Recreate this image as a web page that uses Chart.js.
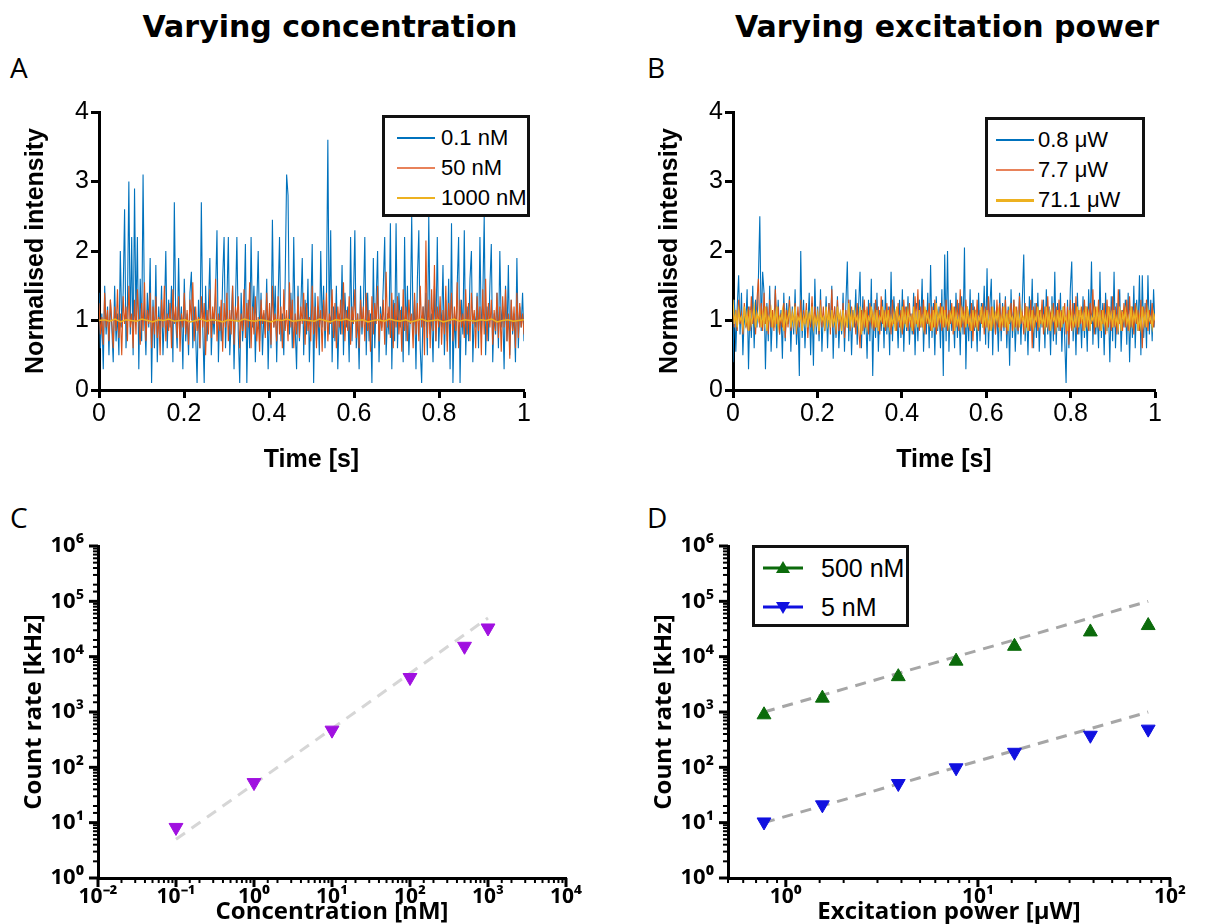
<!DOCTYPE html>
<html>
<head>
<meta charset="utf-8">
<script src="https://cdn.jsdelivr.net/npm/chart.js@4"></script>
<style>
body { margin: 0; background: #fff; width: 1220px; height: 924px; position: relative; overflow: hidden; }
canvas { position: absolute; }
.title { position: absolute; top: 9px; width: 480px; text-align: center; font: bold 30px "DejaVu Sans"; color: #000; }
.letter { position: absolute; font: 28px "Open Sans"; color: #000; }
.legend { position: absolute; background: #fff; border: 3px solid #111; box-sizing: border-box; z-index: 2; font: 22px "Liberation Sans"; color: #000; }
.row { position: absolute; height: 26px; line-height: 26px; white-space: nowrap; }
.row span.sample { position: absolute; top: 12px; height: 2px; width: 38px; }
.row span.txt { position: absolute; top: 0; }
</style>
</head>
<body>
<div class="title" style="left:90px">Varying concentration</div>
<div class="title" style="left:707px">Varying excitation power</div>
<div class="letter" style="left:10px;top:48px">A</div>
<div class="letter" style="left:647px;top:48px">B</div>
<div class="letter" style="left:10px;top:498px">C</div>
<div class="letter" style="left:647px;top:498px">D</div>

<canvas id="chartA" width="560" height="385" style="left:0;top:95px"></canvas>
<canvas id="chartB" width="560" height="385" style="left:634px;top:95px"></canvas>
<canvas id="chartC" width="600" height="404" style="left:0;top:520px"></canvas>
<canvas id="chartD" width="590" height="404" style="left:630px;top:520px"></canvas>

<div class="legend" style="left:382px;top:115px;width:148px;height:102px">
  <div class="row" style="left:12px;top:7px"><span class="sample" style="background:#0072BD;height:1.5px"></span><span class="txt" style="left:44px">0.1 nM</span></div>
  <div class="row" style="left:12px;top:37px"><span class="sample" style="background:#E8825A"></span><span class="txt" style="left:44px">50 nM</span></div>
  <div class="row" style="left:12px;top:67px"><span class="sample" style="background:#EDB120;height:1.5px"></span><span class="txt" style="left:44px">1000 nM</span></div>
</div>
<div class="legend" style="left:985px;top:117px;width:160px;height:100px">
  <div class="row" style="left:8px;top:7px"><span class="sample" style="background:#0072BD;height:1.5px"></span><span class="txt" style="left:42px">0.8 μW</span></div>
  <div class="row" style="left:8px;top:37px"><span class="sample" style="background:#E8825A"></span><span class="txt" style="left:42px">7.7 μW</span></div>
  <div class="row" style="left:8px;top:67px"><span class="sample" style="background:#EDB120;height:3px"></span><span class="txt" style="left:42px">71.1 μW</span></div>
</div>
<div class="legend" style="left:752px;top:545px;width:157px;height:82px;font-size:25px">
  <div class="row" style="left:8px;top:7px"><svg style="position:absolute;top:3px" width="40" height="20"><line x1="0" y1="10" x2="40" y2="10" stroke="#0B6B0B" stroke-width="3"/><polygon points="20,3 27,15 13,15" fill="#0B6B0B"/></svg><span class="txt" style="left:58px">500 nM</span></div>
  <div class="row" style="left:8px;top:46px"><svg style="position:absolute;top:3px" width="40" height="20"><line x1="0" y1="10" x2="40" y2="10" stroke="#1010E0" stroke-width="3"/><polygon points="13,5 27,5 20,17" fill="#1010E0"/></svg><span class="txt" style="left:58px">5 nM</span></div>
</div>

<script>
'use strict';

// ---- panel A: intensity traces at different concentrations ----
const concTraceLabels = ['0.1 nM', '50 nM', '1000 nM'];
const traceA01 = [
  1.4, 0.6, 1.1, 0.3, 1.5, 0.8, 1.2, 0.5, 1.3, 0.9,
  0.4, 1.5, 0.7, 1.1, 0.5, 2.0, 0.9, 1.4, 2.6, 0.6,
  1.2, 3.0, 0.8, 2.2, 0.5, 2.9, 1.0, 2.2, 0.3, 1.6,
  0.7, 3.1, 1.1, 0.5, 1.4, 0.9, 1.9, 0.1, 1.3, 0.6,
  1.8, 0.4, 1.2, 0.8, 1.5, 0.5, 1.1, 2.0, 0.6, 1.3,
  0.9, 1.5, 0.4, 2.7, 1.0, 0.6, 1.9, 0.8, 1.2, 0.3,
  1.6, 0.7, 1.1, 0.5, 1.4, 1.7, 0.6, 1.2, 0.8, 0.1,
  1.3, 0.6, 2.7, 0.9, 0.1, 1.5, 0.7, 1.2, 1.9, 0.5,
  1.1, 0.8, 1.4, 2.3, 0.4, 1.2, 0.7, 1.6, 2.2, 0.6,
  1.3, 2.2, 0.5, 1.0, 1.5, 0.3, 1.2, 2.2, 0.8, 0.1,
  1.4, 0.7, 1.1, 2.1, 0.1, 1.3, 0.6, 2.2, 0.9, 1.5,
  0.4, 1.2, 2.0, 0.7, 1.4, 0.5, 1.1, 0.8, 1.6, 0.3,
  1.2, 0.6, 2.45, 0.9, 1.5, 0.4, 1.3, 2.2, 0.7, 1.1,
  0.5, 1.6, 3.1, 2.8, 0.8, 1.4, 0.6, 2.2, 0.9, 0.3,
  1.5, 0.7, 1.2, 1.9, 0.5, 1.3, 0.8, 1.6, 0.4, 1.1,
  2.1, 0.1, 1.4, 0.7, 1.2, 0.5, 2.0, 0.9, 1.5, 0.6,
  1.3, 3.6, 0.8, 2.3, 0.4, 1.2, 0.7, 1.5, 0.3, 1.1,
  0.8, 1.8, 0.5, 1.4, 0.9, 1.2, 0.4, 2.2, 0.7, 1.3,
  2.3, 0.6, 1.1, 0.3, 1.5, 0.8, 1.2, 2.2, 0.5, 1.4,
  0.7, 1.1, 0.1, 1.9, 0.6, 1.3, 2.0, 0.4, 1.2, 0.9,
  1.5, 2.2, 0.5, 1.1, 0.8, 2.4, 0.3, 1.3, 0.7, 2.4,
  0.6, 1.4, 0.9, 1.2, 0.4, 2.2, 0.7, 1.5, 0.5, 1.1,
  2.5, 0.8, 1.3, 0.3, 1.6, 2.3, 0.6, 0.1, 1.2, 0.9,
  1.4, 0.5, 2.5, 0.8, 1.1, 0.4, 1.5, 0.7, 2.2, 0.6,
  1.2, 0.9, 1.8, 0.5, 1.3, 0.7, 1.6, 0.3, 2.4, 0.1,
  1.1, 0.6, 1.5, 2.2, 0.1, 1.3, 0.8, 2.3, 0.5, 1.2,
  0.7, 1.6, 2.0, 0.4, 1.1, 0.9, 1.4, 0.6, 2.2, 0.8,
  1.3, 2.5, 0.5, 1.2, 0.7, 1.5, 2.1, 0.4, 1.1, 0.8,
  1.4, 0.6, 2.0, 0.9, 1.2, 0.3, 1.5, 0.7, 1.8, 0.5,
  1.3, 0.8, 1.1, 0.4, 1.9, 0.6, 1.2, 0.9, 1.4, 0.7
];
const traceA50 = [
  1.25, 0.8, 1.05, 0.65, 1.4, 0.9, 1.15, 0.7, 1.3, 1.0,
  0.6, 1.2, 0.85, 1.45, 0.75, 1.1, 0.5, 1.35, 0.95, 1.2,
  0.7, 1.5, 0.9, 1.1, 0.6, 1.3, 0.8, 1.45, 1.0, 0.65,
  1.25, 0.85, 1.55, 0.7, 1.15, 0.95, 1.4, 0.6, 1.2, 0.8,
  1.35, 0.75, 1.05, 0.5, 1.3, 0.9, 1.5, 0.7, 1.1, 0.85,
  1.25, 0.6, 1.45, 0.95, 1.2, 0.75, 1.35, 0.55, 1.1, 0.9,
  1.4, 0.8, 1.15, 0.65, 1.3, 1.0, 1.55, 0.7, 1.2, 0.85,
  1.05, 0.6, 1.35, 0.9, 1.25, 0.5, 1.15, 0.8, 1.45, 0.75,
  1.2, 0.95, 1.6, 0.7, 1.1, 0.85, 1.3, 0.55, 1.25, 0.9,
  1.4, 0.7, 1.15, 0.8, 1.5, 0.65, 1.2, 1.0, 1.35, 0.6,
  1.1, 0.85, 1.45, 0.75, 1.25, 0.9, 1.55, 0.6, 1.2, 0.8,
  1.35, 0.7, 1.05, 0.55, 1.3, 0.95, 1.15, 0.75, 1.4, 0.85,
  1.25, 0.65, 1.5, 0.9, 1.1, 0.7, 1.35, 0.8, 1.2, 0.6,
  1.45, 0.85, 1.15, 0.7, 1.55, 0.9, 1.3, 0.6, 1.1, 0.8,
  1.35, 0.75, 1.2, 0.95, 1.4, 0.65, 1.25, 0.85, 1.05, 0.7,
  1.5, 0.8, 1.2, 0.6, 1.35, 0.9, 1.15, 0.55, 1.3, 0.85,
  1.4, 0.7, 1.1, 0.95, 1.45, 0.75, 1.25, 0.6, 1.2, 0.9,
  1.3, 0.8, 1.55, 0.7, 1.15, 0.85, 1.35, 0.65, 1.2, 0.95,
  1.45, 0.75, 1.1, 0.6, 1.3, 0.9, 1.2, 0.7, 1.4, 0.85,
  1.15, 0.55, 1.35, 0.8, 1.25, 0.95, 1.5, 0.7, 1.1, 0.85,
  1.3, 0.65, 1.7, 0.9, 1.2, 0.75, 1.4, 0.6, 1.25, 0.9,
  1.35, 0.8, 1.15, 0.55, 1.45, 0.85, 1.2, 0.7, 1.3, 0.95,
  1.1, 0.6, 1.4, 0.8, 1.25, 0.7, 1.5, 0.9, 1.2, 0.5,
  2.15, 0.75, 1.3, 0.6, 1.45, 0.85, 1.8, 0.7, 1.2, 0.9,
  1.35, 0.65, 1.15, 0.8, 1.5, 0.55, 1.25, 0.95, 1.4, 0.7,
  1.2, 0.85, 1.55, 0.6, 1.3, 0.9, 1.1, 0.75, 1.45, 0.8,
  1.25, 0.7, 1.4, 0.95, 1.15, 0.6, 1.35, 0.85, 1.2, 0.5,
  1.45, 0.8, 1.6, 0.7, 1.25, 0.9, 1.3, 0.65, 1.15, 0.85,
  1.4, 0.75, 1.2, 0.55, 1.35, 0.9, 1.45, 0.7, 1.1, 0.45,
  1.3, 0.85, 1.2, 0.6, 1.4, 0.75, 1.25, 0.9, 1.1, 0.8
];
const traceA1000 = [
  1.0, 1.01, 0.99, 1.02, 0.98, 1.01, 1.0, 0.99, 1.02, 1.0,
  0.98, 1.01, 1.0, 1.02, 0.99, 1.0, 1.01, 0.98, 1.0, 1.02,
  0.99, 1.01, 1.0, 0.98, 1.01, 1.0, 0.99, 1.02, 1.0, 0.99,
  1.01, 1.0, 0.98, 1.01, 1.0, 1.02, 0.99, 1.0, 1.01, 1.0,
  0.99, 1.02, 1.0, 0.98, 1.01, 1.0, 1.02, 0.99, 1.0, 1.01,
  0.98, 1.0, 1.01, 0.99, 1.02, 1.0, 0.99, 1.01, 0.98, 1.0,
  1.02, 0.99, 1.0, 1.01, 0.98, 1.0, 1.02, 0.99, 1.01, 1.0,
  0.99, 1.01, 1.0, 1.02, 0.98, 1.0, 1.01, 0.99, 1.0, 1.01
];

// ---- panel B: intensity traces at different excitation powers ----
const powerTraceLabels = ['0.8 μW', '7.7 μW', '71.1 μW'];
const traceB08 = [
  0.4, 1.3, 0.55, 1.2, 1.65, 0.8, 1.4, 0.5, 1.1, 0.9,
  1.45, 0.3, 1.2, 0.75, 1.5, 0.6, 1.3, 0.9, 1.6, 2.5,
  0.85, 1.7, 1.4, 0.3, 1.25, 0.7, 1.5, 0.55, 1.1, 0.9,
  1.5, 0.6, 1.3, 0.8, 1.15, 0.45, 1.4, 0.7, 1.25, 0.95,
  1.35, 0.55, 1.2, 0.8, 1.45, 0.65, 1.1, 0.2, 2.0, 0.75,
  1.3, 0.6, 1.15, 0.9, 1.4, 0.5, 1.25, 0.35, 1.6, 0.8,
  1.2, 0.7, 1.45, 0.55, 1.1, 0.85, 1.35, 0.6, 1.25, 0.9,
  1.5, 0.45, 1.2, 0.75, 1.35, 0.6, 1.1, 0.8, 1.4, 0.55,
  1.25, 1.85, 0.7, 1.3, 0.5, 1.15, 0.9, 1.45, 0.65, 1.2,
  1.7, 0.6, 1.35, 0.8, 1.1, 0.45, 1.3, 0.7, 1.6, 0.2,
  1.25, 0.75, 1.4, 0.55, 1.15, 0.85, 1.3, 0.6, 1.45, 0.8,
  1.2, 0.5, 1.7, 0.7, 1.35, 0.9, 1.15, 0.6, 1.3, 0.75,
  1.45, 0.55, 1.2, 0.85, 1.35, 0.65, 1.1, 0.8, 1.4, 0.5,
  1.25, 0.7, 1.3, 0.9, 1.6, 0.55, 1.15, 0.8, 1.4, 0.6,
  1.8, 0.75, 1.25, 0.5, 1.35, 0.85, 1.2, 0.6, 1.45, 0.2,
  1.95, 0.7, 2.0, 0.55, 1.3, 0.85, 1.15, 0.6, 1.4, 0.75,
  1.25, 0.5, 1.35, 0.8, 2.05, 0.3, 1.2, 0.7, 1.45, 0.6,
  1.3, 0.85, 1.15, 0.55, 1.4, 0.7, 1.25, 0.9, 1.5, 0.65,
  1.75, 0.6, 1.2, 1.6, 0.5, 1.3, 0.8, 1.15, 0.55, 1.4,
  0.7, 1.25, 0.85, 1.35, 0.6, 1.2, 0.35, 1.45, 0.75, 1.3,
  0.55, 1.15, 0.8, 1.4, 0.65, 1.3, 1.95, 0.7, 1.2, 0.5,
  1.35, 0.85, 1.6, 0.6, 1.25, 0.75, 1.4, 0.55, 1.15, 0.9,
  1.3, 0.6, 1.45, 0.8, 1.2, 0.5, 1.35, 0.7, 1.7, 0.65,
  1.25, 0.85, 1.4, 0.55, 1.2, 0.75, 0.1, 1.3, 0.6, 1.45,
  1.85, 0.7, 1.25, 0.5, 1.4, 0.8, 1.15, 0.6, 1.35, 0.75,
  1.2, 0.55, 1.45, 0.85, 1.85, 0.65, 1.3, 0.8, 1.15, 0.6,
  1.7, 0.75, 1.25, 0.5, 1.4, 0.85, 1.2, 0.4, 1.35, 0.7,
  1.7, 0.6, 1.25, 0.8, 1.45, 0.55, 1.15, 0.9, 1.3, 0.65,
  1.4, 0.4, 1.2, 0.75, 1.5, 0.6, 1.3, 0.85, 1.65, 0.5,
  1.65, 0.75, 1.25, 0.6, 1.65, 0.8, 1.3, 0.7, 1.45, 0.9
];
const traceB77 = [
  1.2, 0.9, 1.15, 0.85, 1.3, 0.95, 1.1, 0.8, 1.25, 1.0,
  0.9, 1.2, 0.85, 1.35, 0.95, 1.15, 0.8, 1.3, 1.6, 0.9,
  1.25, 0.85, 1.4, 0.95, 1.2, 0.8, 1.3, 0.9, 1.15, 0.85,
  1.45, 0.95, 1.2, 0.8, 1.1, 0.9, 1.25, 0.75, 1.15, 0.9,
  1.3, 0.85, 1.1, 0.95, 1.25, 0.8, 1.2, 0.9, 1.3, 0.85,
  1.15, 0.95, 1.25, 0.75, 1.1, 0.9, 1.35, 0.85, 1.2, 0.95,
  1.1, 0.8, 1.3, 0.9, 1.2, 0.85, 1.15, 0.95, 1.25, 0.8,
  1.45, 0.9, 1.2, 0.8, 1.3, 0.85, 1.1, 0.95, 1.25, 0.75,
  1.15, 0.9, 1.3, 0.85, 1.2, 0.95, 1.1, 0.8, 1.25, 0.9,
  0.6, 1.15, 0.85, 1.3, 0.9, 1.2, 0.8, 1.25, 0.95, 1.1,
  0.85, 1.3, 0.9, 1.2, 0.8, 1.35, 0.95, 1.15, 0.85, 1.25,
  0.9, 1.2, 0.8, 1.3, 0.95, 1.1, 0.85, 1.25, 0.9, 1.15,
  0.8, 1.3, 0.95, 1.2, 0.85, 1.25, 0.9, 1.1, 0.8, 1.35,
  0.95, 1.45, 0.85, 1.2, 0.9, 1.3, 0.8, 1.15, 0.95, 1.25,
  0.85, 1.2, 0.9, 1.3, 0.8, 1.1, 0.95, 1.25, 0.85, 1.2,
  0.9, 1.3, 0.85, 1.15, 0.95, 1.25, 0.8, 1.2, 0.9, 1.3,
  0.85, 1.45, 0.9, 1.2, 0.8, 1.3, 0.95, 1.1, 0.85, 1.25,
  0.7, 1.2, 0.9, 1.3, 0.85, 1.15, 0.95, 1.25, 0.8, 1.2,
  0.9, 1.35, 0.85, 1.2, 0.95, 1.1, 0.8, 1.3, 0.9, 1.25,
  0.85, 1.2, 0.9, 1.3, 0.8, 1.15, 0.95, 1.25, 0.85, 1.3,
  0.9, 1.2, 0.85, 1.35, 0.95, 1.1, 0.8, 1.25, 0.9, 1.2,
  0.85, 1.3, 0.6, 1.2, 0.9, 1.25, 0.85, 1.15, 0.95, 1.3,
  0.8, 1.2, 0.9, 1.35, 0.85, 1.1, 0.95, 1.25, 0.8, 1.2,
  0.9, 1.3, 0.85, 1.15, 0.95, 1.25, 0.8, 1.2, 0.65, 1.3,
  0.85, 1.25, 0.9, 1.35, 0.8, 1.15, 0.95, 1.2, 0.85, 1.3,
  0.9, 1.2, 0.85, 1.25, 0.95, 1.45, 0.8, 1.2, 0.9, 1.3,
  0.85, 1.15, 0.95, 1.25, 0.8, 1.3, 0.9, 1.2, 0.85, 1.35,
  0.9, 1.2, 0.8, 1.45, 0.95, 1.15, 0.85, 1.25, 0.9, 1.3,
  0.85, 1.35, 0.9, 1.2, 0.8, 1.25, 0.95, 1.15, 0.85, 1.3,
  0.6, 1.2, 0.9, 1.3, 0.85, 1.15, 0.95, 1.25, 0.9, 1.1
];
const traceB711 = [
  1.3, 0.95, 1.1, 0.9, 1.15, 1.0, 1.05, 0.9, 1.2, 0.95,
  1.1, 0.85, 1.15, 0.95, 1.05, 1.2, 0.9, 1.1, 1.0, 1.15,
  0.9, 1.1, 0.95, 1.2, 0.85, 1.05, 1.0, 1.15, 0.9, 1.1,
  0.95, 1.2, 0.9, 1.05, 1.0, 1.15, 0.85, 1.1, 0.95, 1.05,
  1.15, 0.9, 1.1, 0.95, 1.2, 0.9, 1.05, 1.0, 1.1, 0.85,
  1.05, 0.95, 1.15, 0.9, 1.1, 1.0, 1.2, 0.9, 1.05, 0.95,
  1.1, 0.85, 1.15, 1.0, 1.05, 0.9, 1.2, 0.95, 1.1, 0.9,
  1.15, 0.95, 1.05, 0.9, 1.2, 1.0, 1.1, 0.85, 1.15, 0.95,
  1.05, 0.9, 1.25, 0.95, 1.1, 0.9, 1.15, 1.0, 1.05, 0.9,
  1.2, 0.8, 1.1, 0.95, 1.15, 0.9, 1.05, 1.0, 1.2, 0.95,
  1.1, 0.9, 1.15, 0.85, 1.05, 1.0, 1.2, 0.9, 1.1, 0.95,
  1.15, 0.9, 1.05, 0.95, 1.1, 0.85, 1.2, 1.0, 1.05, 0.9,
  1.2, 0.95, 1.1, 0.9, 1.15, 1.0, 1.05, 0.85, 1.2, 0.95,
  1.1, 0.9, 1.15, 0.95, 1.05, 0.9, 1.2, 1.0, 1.1, 0.95,
  1.05, 0.85, 1.15, 0.9, 1.25, 0.95, 1.1, 1.0, 1.2, 0.9,
  1.15, 0.95, 1.05, 0.9, 1.1, 1.0, 1.2, 0.85, 1.1, 0.95,
  1.05, 0.9, 1.15, 1.0, 1.1, 0.9, 1.2, 0.95, 1.05, 0.85,
  1.15, 0.95, 1.1, 0.9, 1.05, 1.0, 1.2, 0.9, 1.1, 0.95,
  1.15, 0.9, 1.05, 0.85, 1.2, 0.95, 1.1, 1.0, 1.15, 0.9,
  1.05, 0.95, 1.2, 0.9, 1.1, 0.85, 1.15, 1.0, 1.05, 0.9,
  1.2, 0.95, 1.1, 0.9, 1.15, 1.0, 1.05, 0.9, 1.2, 0.85,
  1.1, 0.95, 1.15, 0.9, 1.05, 1.0, 1.2, 0.9, 1.1, 0.95,
  1.05, 0.9, 1.2, 0.95, 1.1, 0.85, 1.15, 1.0, 1.05, 0.9,
  1.15, 0.95, 1.1, 0.9, 1.2, 1.0, 1.05, 0.85, 1.15, 0.95,
  1.1, 0.9, 1.05, 0.95, 1.2, 0.9, 1.15, 1.0, 1.1, 0.85,
  1.2, 0.95, 1.1, 0.9, 1.05, 1.0, 1.15, 0.9, 1.2, 0.95,
  1.1, 0.85, 1.15, 0.95, 1.05, 0.9, 1.2, 1.0, 1.1, 0.9,
  1.15, 0.95, 1.05, 0.9, 1.2, 0.85, 1.1, 1.0, 1.15, 0.95,
  1.05, 0.9, 1.2, 0.95, 1.1, 1.0, 1.15, 0.85, 1.05, 0.9,
  1.2, 0.95, 1.1, 0.9, 1.15, 1.0, 1.05, 0.9, 1.1, 1.0
];
const timeTicks = [0, 0.2, 0.4, 0.6, 0.8, 1];

// ---- panel C: count rate vs concentration ----
const concentration = [0.1, 1, 10, 100, 500, 1000];
const countRateConc = [8.2, 53, 470, 4200, 15400, 33000];
const concFitX = [0.1, 1000];
const concFitY = [5, 50000];

// ---- panel D: count rate vs excitation power ----
const power = [0.77, 1.55, 3.85, 7.7, 15.5, 38.5, 77];
const rate500nM = [890, 1780, 4350, 8300, 15400, 28000, 36500];
const rate5nM = [10.3, 21, 51, 98, 187, 380, 490];
const powerFitX = [0.77, 77];
const fit500nM = [1000, 100000];
const fit5nM = [10, 1000];
const dLegend = ['500 nM', '5 nM'];

const blue = '#0072BD', orange = '#D95319', yellow = '#EDB120';

Chart.defaults.color = '#000';
Chart.defaults.animation = false;
Chart.defaults.font.family = 'Liberation Sans';

function toPoints(values) {
  return values.map((v, i) => ({ x: i / (values.length - 1), y: v }));
}

function pairPoints(xs, ys) {
  return xs.map((x, i) => ({ x: x, y: ys[i] }));
}

const superDigits = { '-': '⁻', '0': '⁰', '1': '¹', '2': '²', '3': '³', '4': '⁴', '5': '⁵', '6': '⁶', '7': '⁷', '8': '⁸', '9': '⁹' };
function isPow10(v) {
  const e = Math.log10(v);
  return Math.abs(e - Math.round(e)) < 1e-6;
}
function powLabel(v) {
  if (!isPow10(v)) return '';
  return '10' + String(Math.round(Math.log10(v))).split('').map(c => superDigits[c]).join('');
}

// tick marks of the log panels: long for decades, short for the rest
const logTickMarks = {
  id: 'logTickMarks',
  afterDraw(chart) {
    const ctx = chart.ctx;
    ctx.save();
    ctx.strokeStyle = '#000';
    ['x', 'y'].forEach(id => {
      const s = chart.scales[id];
      s.ticks.forEach(t => {
        const major = isPow10(t.value);
        const len = major ? 9 : 5;
        const p = s.getPixelForValue(t.value);
        ctx.lineWidth = major ? 3 : 2;
        ctx.beginPath();
        if (id === 'x') { ctx.moveTo(p, s.top); ctx.lineTo(p, s.top + len); }
        else { ctx.moveTo(s.right - len, p); ctx.lineTo(s.right, p); }
        ctx.stroke();
      });
    });
    ctx.restore();
  }
};

function traceOptions(rightPad) {
  return {
    responsive: false,
    layout: { padding: { top: 15, right: rightPad, left: 0, bottom: 0 } },
    plugins: { legend: { display: false }, tooltip: { enabled: false } },
    scales: {
      x: {
        type: 'linear', min: 0, max: 1,
        afterBuildTicks: s => { s.ticks = timeTicks.map(v => ({ value: v })); },
        afterFit: s => { s.height = 90; },
        border: { display: true, color: '#000', width: 3 },
        grid: { drawOnChartArea: false, drawTicks: true, tickLength: 8, tickWidth: 3, tickColor: '#000' },
        ticks: { font: { size: 25 }, padding: 1, maxRotation: 0, callback: v => String(v) },
        title: { display: true, text: 'Time [s]', font: { size: 25, weight: 'bold' }, padding: { top: 0, bottom: 5 } }
      },
      y: {
        type: 'linear', min: 0, max: 4,
        afterFit: s => { s.width = 99; },
        border: { display: true, color: '#000', width: 3 },
        grid: { drawOnChartArea: false, drawTicks: true, tickLength: 8, tickWidth: 3, tickColor: '#000' },
        ticks: { stepSize: 1, font: { size: 25 }, padding: 2 },
        title: { display: true, text: 'Normalised intensity', font: { size: 25, weight: 'bold' }, padding: { top: 21, bottom: 0 } }
      }
    }
  };
}

function traceSet(label, values, color, width, order) {
  return {
    label: label, data: toPoints(values), showLine: true, pointRadius: 0,
    borderColor: color, backgroundColor: color, borderWidth: width, order: order
  };
}

new Chart(document.getElementById('chartA'), {
  type: 'scatter',
  data: {
    datasets: [
      traceSet(concTraceLabels[0], traceA01, blue, 1.1, 3),
      traceSet(concTraceLabels[1], traceA50, orange, 1.1, 2),
      traceSet(concTraceLabels[2], traceA1000, yellow, 1.5, 1)
    ]
  },
  options: traceOptions(36)
});

new Chart(document.getElementById('chartB'), {
  type: 'scatter',
  data: {
    datasets: [
      traceSet(powerTraceLabels[0], traceB08, blue, 1.1, 3),
      traceSet(powerTraceLabels[1], traceB77, orange, 1.1, 2),
      traceSet(powerTraceLabels[2], traceB711, yellow, 1.3, 1)
    ]
  },
  options: traceOptions(39)
});

function logOptions(xMin, xMax, xTitle, yAxisWidth, rightPad) {
  return {
    responsive: false,
    layout: { padding: { top: 26, right: rightPad, left: 0, bottom: 0 } },
    plugins: { legend: { display: false }, tooltip: { enabled: false } },
    scales: {
      x: {
        type: 'logarithmic', min: xMin, max: xMax,
        afterFit: s => { s.height = 46; },
        border: { display: true, color: '#000', width: 3 },
        grid: { drawOnChartArea: false, drawTicks: true, tickLength: 9, tickColor: 'rgba(0,0,0,0)' },
        ticks: { autoSkip: false, maxRotation: 0, padding: 0, font: { family: 'Open Sans', size: 21, weight: 'bold', lineHeight: 1 }, callback: v => powLabel(v) },
        title: { display: true, text: xTitle, font: { family: 'Open Sans', size: 24, weight: 'bold', lineHeight: 1 }, padding: { top: 0, bottom: 0 } }
      },
      y: {
        type: 'logarithmic', min: 1, max: 1e6,
        afterFit: s => { s.width = yAxisWidth; },
        border: { display: true, color: '#000', width: 3 },
        grid: { drawOnChartArea: false, drawTicks: true, tickLength: 9, tickColor: 'rgba(0,0,0,0)' },
        ticks: { autoSkip: false, padding: 5, font: { family: 'Open Sans', size: 22, weight: 'bold' }, callback: v => powLabel(v) },
        title: { display: true, text: 'Count rate [kHz]', font: { family: 'Open Sans', size: 24, weight: 'bold' }, padding: { top: 20, bottom: 0 } }
      }
    }
  };
}

new Chart(document.getElementById('chartC'), {
  type: 'scatter',
  data: {
    datasets: [
      {
        label: 'Count rate', data: pairPoints(concentration, countRateConc),
        pointStyle: 'triangle', rotation: 180, pointRadius: 8,
        backgroundColor: '#A010E0', borderColor: '#A010E0', order: 1
      },
      {
        label: 'Fit', data: pairPoints(concFitX, concFitY), showLine: true, pointRadius: 0,
        borderColor: '#D6D6D6', borderWidth: 3, borderDash: [11, 8], order: 2
      }
    ]
  },
  options: logOptions(0.01, 10000, 'Concentration [nM]', 98, 34),
  plugins: [logTickMarks]
});

new Chart(document.getElementById('chartD'), {
  type: 'scatter',
  data: {
    datasets: [
      {
        label: dLegend[0], data: pairPoints(power, rate500nM),
        pointStyle: 'triangle', pointRadius: 8,
        backgroundColor: '#0B6B0B', borderColor: '#0B6B0B', order: 1
      },
      {
        label: dLegend[1], data: pairPoints(power, rate5nM),
        pointStyle: 'triangle', rotation: 180, pointRadius: 8,
        backgroundColor: '#1010E0', borderColor: '#1010E0', order: 1
      },
      {
        label: 'Fit 500 nM', data: pairPoints(powerFitX, fit500nM), showLine: true, pointRadius: 0,
        borderColor: '#A6A6A6', borderWidth: 3, borderDash: [11, 8], order: 2
      },
      {
        label: 'Fit 5 nM', data: pairPoints(powerFitX, fit5nM), showLine: true, pointRadius: 0,
        borderColor: '#A6A6A6', borderWidth: 3, borderDash: [11, 8], order: 2
      }
    ]
  },
  options: logOptions(0.5, 100, 'Excitation power [μW]', 98, 50),
  plugins: [logTickMarks]
});
</script>
</body>
</html>
